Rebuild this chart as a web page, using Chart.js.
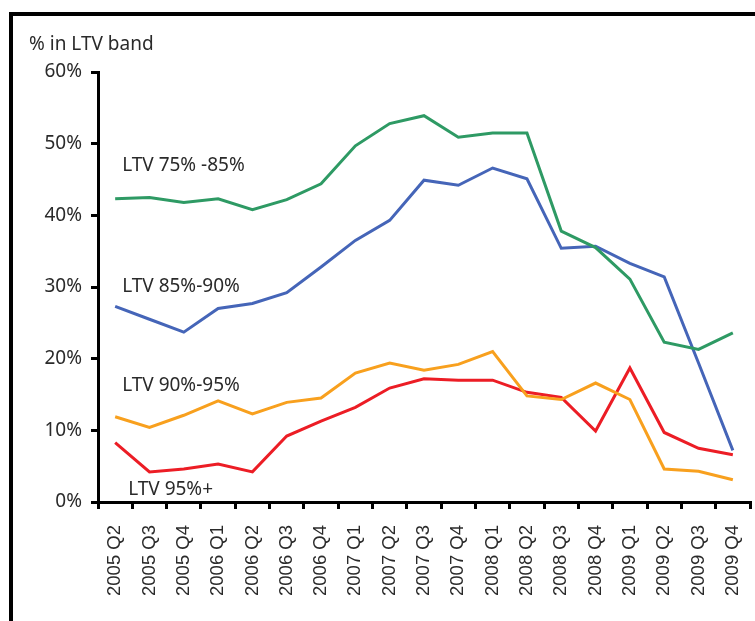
<!DOCTYPE html>
<html>
<head>
<meta charset="utf-8">
<script src="https://cdn.jsdelivr.net/npm/chart.js@4/dist/chart.umd.min.js"></script>
<style>
  html, body { margin: 0; padding: 0; background: #fff; }
  #wrap { position: relative; width: 755px; height: 621px; }
</style>
</head>
<body>
<div id="wrap"><canvas id="ltvChart" width="755" height="621"></canvas></div>
<script>
// quarters on the x axis
const quarters = ["2005 Q2", "2005 Q3", "2005 Q4", "2006 Q1", "2006 Q2", "2006 Q3", "2006 Q4",
    "2007 Q1", "2007 Q2", "2007 Q3", "2007 Q4", "2008 Q1", "2008 Q2", "2008 Q3", "2008 Q4",
    "2009 Q1", "2009 Q2", "2009 Q3", "2009 Q4"];

// % of loans in each LTV band
const ltv75to85 = [42.3, 42.5, 41.8, 42.3, 40.8, 42.2, 44.4, 49.7, 52.8, 53.9, 50.9, 51.5, 51.5, 37.8, 35.5, 31.1, 22.3, 21.3, 23.6];
const ltv85to90 = [27.3, 25.5, 23.7, 27.0, 27.7, 29.2, 32.8, 36.5, 39.3, 44.9, 44.2, 46.6, 45.1, 35.4, 35.7, 33.3, 31.4, 19.4, 7.2];
const ltv90to95 = [11.9, 10.4, 12.1, 14.1, 12.3, 13.9, 14.5, 18.0, 19.4, 18.4, 19.2, 21.0, 14.8, 14.3, 16.6, 14.3, 4.6, 4.3, 3.1];
const ltv95plus = [8.3, 4.2, 4.6, 5.3, 4.2, 9.2, 11.3, 13.2, 15.9, 17.2, 17.0, 17.0, 15.3, 14.6, 9.9, 18.7, 9.7, 7.5, 6.6];

const yTicks = [0, 10, 20, 30, 40, 50, 60];

// text labels next to the lines (value on y axis where they sit)
const bandLabels = ["LTV 75% -85%", "LTV 85%-90%", "LTV 90%-95%", "LTV 95%+"];
const bandLabelY = [47.0, 30.0, 16.3, 1.8];

const textColor = "#2a2a2a";
const labelFont = "'Noto Sans', sans-serif";

// black frame, axis title and series labels
const decorPlugin = {
    id: "decor",
    beforeDraw(chart) {
        const ctx = chart.ctx;
        ctx.save();
        ctx.fillStyle = "#fff";
        ctx.fillRect(0, 0, chart.width, chart.height);
        ctx.fillStyle = "#000";
        ctx.fillRect(9, 12, 4, chart.height - 12);
        ctx.fillRect(9, 12, chart.width - 9, 4);
        ctx.restore();
    },
    afterDraw(chart) {
        const ctx = chart.ctx;
        const x = chart.scales.x;
        const y = chart.scales.y;
        ctx.save();
        ctx.fillStyle = textColor;
        ctx.font = "19px " + labelFont;
        ctx.textBaseline = "middle";
        ctx.textAlign = "left";
        ctx.fillText("% in LTV band", 29, 45);
        bandLabels.forEach((txt, i) => {
            const px = x.getPixelForValue(0) + (i === 3 ? 13 : 7);
            ctx.fillText(txt, px, y.getPixelForValue(bandLabelY[i]));
        });
        ctx.restore();
    }
};

function makeSeries(label, data, color) {
    return {
        label: label,
        data: data,
        borderColor: color,
        backgroundColor: color,
        borderWidth: 3,
        pointRadius: 0,
        tension: 0,
        fill: false
    };
}

new Chart(document.getElementById("ltvChart"), {
    type: "line",
    data: {
        labels: quarters,
        datasets: [
            makeSeries(bandLabels[0], ltv75to85, "#2e9a64"),
            makeSeries(bandLabels[1], ltv85to90, "#4565b8"),
            makeSeries(bandLabels[2], ltv90to95, "#f8a01e"),
            makeSeries(bandLabels[3], ltv95plus, "#ec1d25")
        ]
    },
    options: {
        responsive: false,
        animation: false,
        layout: { padding: { left: 0, right: 5, top: 72, bottom: 0 } },
        plugins: {
            legend: { display: false },
            tooltip: { enabled: false }
        },
        scales: {
            x: {
                offset: true,
                grid: {
                    offset: true,
                    drawOnChartArea: false,
                    drawTicks: true,
                    tickLength: 7,
                    color: "#000",
                    lineWidth: 3
                },
                border: { display: true, color: "#000", width: 3 },
                ticks: {
                    autoSkip: false,
                    maxRotation: 90,
                    minRotation: 90,
                    padding: 16,
                    color: textColor,
                    font: { family: "'Liberation Sans', Arial, sans-serif", size: 18.5 }
                },
                afterFit(scale) {
                    scale.height = 119;
                    scale.paddingLeft = 0;
                    scale.paddingRight = 0;
                }
            },
            y: {
                min: 0,
                max: 60,
                afterBuildTicks(scale) {
                    scale.ticks = yTicks.map(v => ({ value: v }));
                },
                grid: {
                    drawOnChartArea: false,
                    drawTicks: true,
                    tickLength: 7,
                    color: "#000",
                    lineWidth: 3
                },
                border: { display: true, color: "#000", width: 3 },
                ticks: {
                    padding: 9,
                    color: textColor,
                    font: { family: labelFont, size: 19 },
                    callback: v => v + "%"
                },
                afterFit(scale) { scale.width = 98; }
            }
        }
    },
    plugins: [decorPlugin]
});
</script>
</body>
</html>
